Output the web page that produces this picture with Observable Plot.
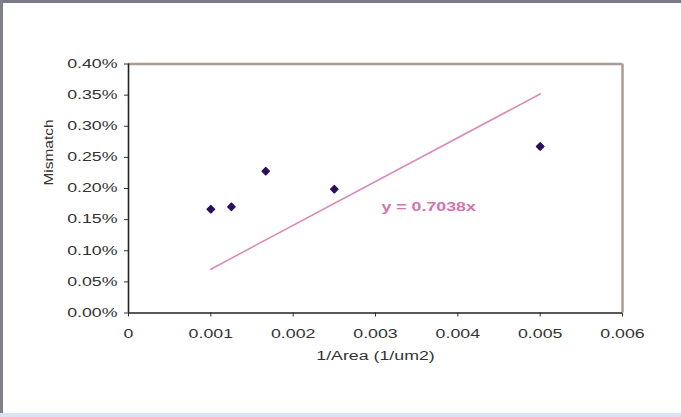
<!DOCTYPE html>
<html>
<head>
<meta charset="utf-8">
<script src="https://cdn.jsdelivr.net/npm/d3@7"></script>
<script src="https://cdn.jsdelivr.net/npm/@observablehq/plot@0.6"></script>
<style>
  html, body { margin: 0; padding: 0; background: #ffffff; }
  #wrap { position: relative; width: 681px; height: 417px; overflow: hidden; background: #fff; }
  .b { position: absolute; }
  svg { font-family: "Liberation Sans", Arial, sans-serif; }
</style>
</head>
<body>
<div id="wrap">
  <div id="chart"></div>
  <div class="b" style="left:0;top:0;width:681px;height:3px;background:#7a7a88;"></div>
  <div class="b" style="left:0;top:0;width:3px;height:417px;background:#808088;"></div>
  <div class="b" style="left:0;top:413px;width:681px;height:4px;background:#dfe2f5;"></div>
</div>
<script>
// ---- data ----
const inverseArea = [0.001, 0.00125, 0.001667, 0.0025, 0.005];
const mismatch = [0.001667, 0.001706, 0.002278, 0.001989, 0.002675];
const xTicks = [0, 0.001, 0.002, 0.003, 0.004, 0.005, 0.006];
const yTicks = [0, 0.0005, 0.001, 0.0015, 0.002, 0.0025, 0.003, 0.0035, 0.004];
const fitSlope = 0.7038;
const fitLabel = "y = 0.7038x";
const xLabel = "1/Area (1/um2)";
const yLabel = "Mismatch";

const points = inverseArea.map((x, i) => ({x, y: mismatch[i]}));
const fitX = [d3.min(inverseArea), d3.max(inverseArea)];
const fitLine = fitX.map(x => ({x, y: fitSlope * x}));
const xMax = xTicks[xTicks.length - 1];
const yMax = yTicks[yTicks.length - 1];

const chart = Plot.plot({
  width: 681,
  height: 417,
  marginLeft: 128,
  marginRight: 59,
  marginTop: 63.5,
  marginBottom: 104.5,
  style: {fontSize: "12px", fontFamily: "Liberation Sans, Arial, sans-serif", color: "#333", background: "#fff"},
  x: {domain: [0, xMax], ticks: xTicks, tickSize: 4, tickPadding: 12, label: null,
      tickFormat: d => d === 0 ? "0" : d3.format(".3f")(d)},
  y: {domain: [0, yMax], ticks: yTicks, tickSize: 4, tickPadding: 7, label: null,
      tickFormat: d3.format(".2%")},
  marks: [
    Plot.ruleY([yMax], {stroke: "#a89d95", strokeWidth: 2.5}),
    Plot.ruleX([xMax], {stroke: "#a89d95", strokeWidth: 2.5}),
    Plot.ruleX([0], {stroke: "#222", strokeWidth: 1.6}),
    Plot.ruleY([0], {stroke: "#222", strokeWidth: 1.6}),
    Plot.line(fitLine, {x: "x", y: "y", stroke: "#d98cba", strokeWidth: 1.6}),
    Plot.dot(points, {x: "x", y: "y", symbol: "diamond2", r: 3.4, fill: "#2c0c5c", stroke: "#2c0c5c", strokeWidth: 1.2, strokeLinejoin: "round"}),
    Plot.text([fitLabel], {x: 0.003645, y: 0.001695, text: d => d, fill: "#d274ae", fontWeight: "bold", fontSize: 12}),
    Plot.text([xLabel], {frameAnchor: "bottom", dy: 47, text: d => d, fill: "#333", fontSize: 12}),
    Plot.text([yLabel], {frameAnchor: "left", dx: -80, dy: -3, rotate: -90, text: d => d, fill: "#333", fontSize: 13})
  ]
});
document.getElementById("chart").appendChild(chart);

// stretch horizontal text to match the reference's wide lettering
d3.select(chart).selectAll("text").each(function() {
  const t = this;
  const s = t.textContent;
  if (!s) return;
  const len = t.getComputedTextLength();
  if (s === yLabel) {
    t.setAttribute("textLength", 66);
  } else {
    t.setAttribute("textLength", len * 1.48);
  }
  t.setAttribute("lengthAdjust", "spacingAndGlyphs");
});
</script>
</body>
</html>
